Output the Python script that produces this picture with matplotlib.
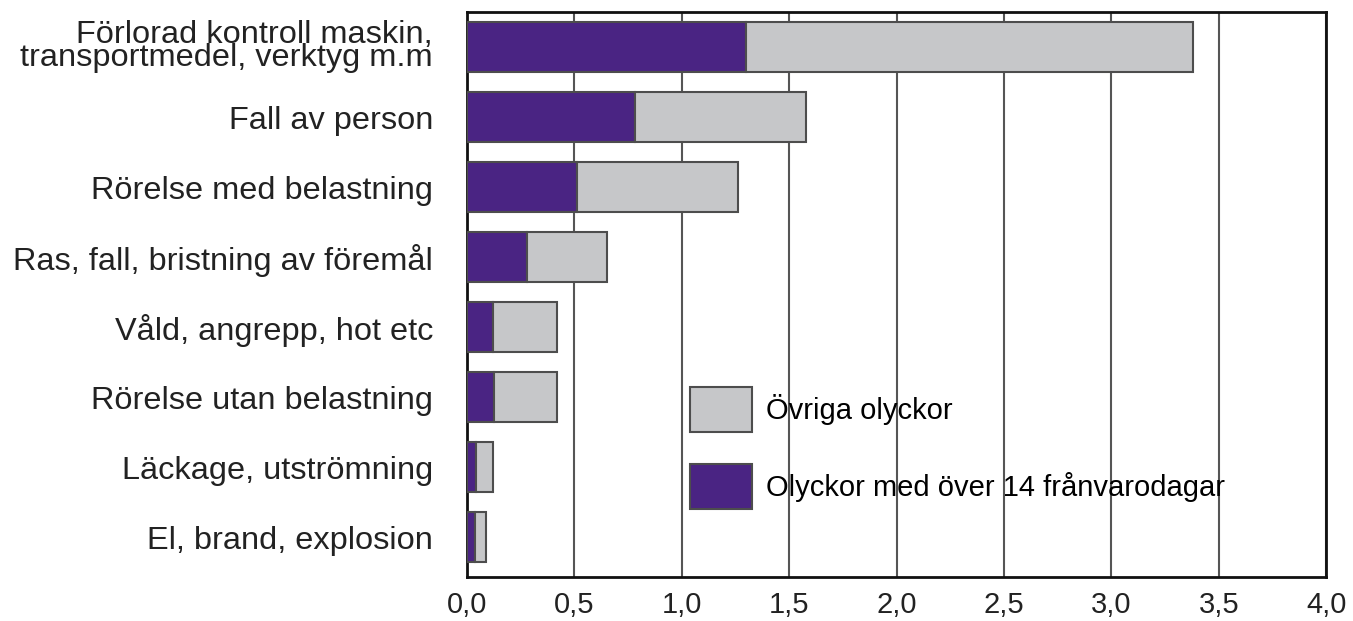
import matplotlib
matplotlib.use('Agg')
import matplotlib.pyplot as plt
import numpy as np

plt.rcParams['font.family'] = ['Liberation Sans', 'DejaVu Sans']

# Olycksorsaker, uppifrån och ned
categories = ['Förlorad kontroll maskin,\ntransportmedel, verktyg m.m',
              'Fall av person',
              'Rörelse med belastning',
              'Ras, fall, bristning av föremål',
              'Våld, angrepp, hot etc',
              'Rörelse utan belastning',
              'Läckage, utströmning',
              'El, brand, explosion']
severe = [1.30, 0.78, 0.51, 0.28, 0.12, 0.125, 0.04, 0.035]   # över 14 frånvarodagar
total = [3.38, 1.58, 1.26, 0.65, 0.42, 0.42, 0.12, 0.09]
other = [t - s for t, s in zip(total, severe)]                 # övriga olyckor
xticks = [0.0, 0.5, 1.0, 1.5, 2.0, 2.5, 3.0, 3.5, 4.0]

purple = '#4a2483'
grey = '#c6c7c9'
edge = '#4d4d4d'

fig = plt.figure(figsize=(13.53, 6.21), dpi=100)
ax = fig.add_axes([0.3452, 0.0709, 0.6349, 0.9098])

y = np.arange(len(categories))
ax.barh(y, severe, height=0.72, color=purple, edgecolor=edge, linewidth=1.5,
        label='Olyckor med över 14 frånvarodagar', zorder=3)
ax.barh(y, other, left=severe, height=0.72, color=grey, edgecolor=edge, linewidth=1.5,
        label='Övriga olyckor', zorder=3)

ax.set_xlim(0, 4)
ax.set_ylim(len(categories) - 1 + 0.57, -0.5)
ax.set_xticks(xticks)
ax.set_xticklabels([('%.1f' % v).replace('.', ',') for v in xticks], fontsize=21, color='#222222')
ax.set_yticks(y)
ax.set_yticklabels(categories, fontsize=23.4, color='#222222', linespacing=0.69)
ax.tick_params(axis='both', length=0)
ax.tick_params(axis='x', pad=10)
ax.tick_params(axis='y', pad=24.5)

ax.xaxis.grid(True, color='#555555', linewidth=1.5, zorder=0)
ax.set_axisbelow(True)
for s in ax.spines.values():
    s.set_linewidth(2)
    s.set_color('#111111')

handles, labels = ax.get_legend_handles_labels()
ax.legend(handles[::-1], labels[::-1], loc='upper left', bbox_to_anchor=(0.2596, 0.336),
          frameon=False, fontsize=21, borderpad=0, borderaxespad=0,
          handlelength=2.12, handleheight=1.99, handletextpad=0.48, labelspacing=1.1)

fig.savefig('out.png', dpi=100)
